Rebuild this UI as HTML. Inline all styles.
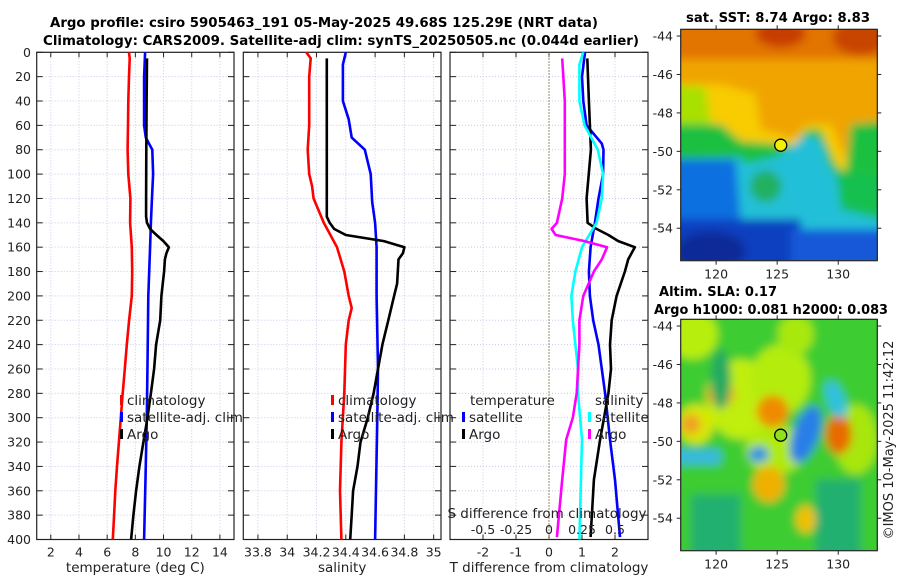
<!DOCTYPE html>
<html><head><meta charset="utf-8"><style>
body{margin:0;background:#fff}
svg{display:block;font-family:"DejaVu Sans","Liberation Sans",sans-serif}
</style></head><body>
<svg id="chart" width="900" height="580" viewBox="0 0 900 580" xmlns="http://www.w3.org/2000/svg">
<defs>
<filter id="bl" filterUnits="userSpaceOnUse" x="-30" y="-30" width="260" height="300"><feGaussianBlur stdDeviation="4.5"/></filter>
<clipPath id="c1"><rect x="0" y="0" width="197" height="231"/></clipPath>
</defs>
<g font-weight="bold" font-size="13" text-anchor="middle">
<text x="324" y="27" textLength="548" lengthAdjust="spacingAndGlyphs">Argo profile: csiro 5905463_191 05-May-2025 49.68S 125.29E (NRT data)</text>
<text x="341" y="45" textLength="596" lengthAdjust="spacingAndGlyphs">Climatology: CARS2009. Satellite-adj clim: synTS_20250505.nc (0.044d earlier)</text>
<text x="778" y="22" textLength="184" lengthAdjust="spacingAndGlyphs">sat. SST: 8.74 Argo: 8.83</text>
<text x="718" y="296" textLength="118" lengthAdjust="spacingAndGlyphs">Altim. SLA: 0.17</text>
<text x="771" y="314" textLength="234" lengthAdjust="spacingAndGlyphs">Argo h1000: 0.081 h2000: 0.083</text>
</g>
<g id="panels"></g>
<g id="maps"></g>
<text transform="translate(893,440) rotate(-90)" text-anchor="middle" font-size="13" fill="#222">©IMOS 10-May-2025 11:42:12</text>
</svg>
<script>
// ---- data ----
const tempClimDepth=[0,5,20,40,60,80,100,120,140,160,180,200,220,240,260,280,300,320,340,360,380,400];
const tempClim=[7.55,7.6,7.55,7.5,7.48,7.45,7.5,7.65,7.63,7.75,7.78,7.75,7.56,7.39,7.25,7.1,6.97,6.83,6.7,6.58,6.49,6.4];
const tempSatDepth=[0,20,40,60,70,80,100,123,140,160,200,250,300,350,400];
const tempSat=[8.69,8.62,8.62,8.62,8.74,9.2,9.26,9.17,9.1,9.05,8.92,8.87,8.81,8.72,8.62];
const tempArgoDepth=[5,40,80,120,135,140,145,150,155,160,165,170,180,200,220,240,260,280,300,320,340,360,380,400];
const tempArgo=[8.83,8.8,8.78,8.76,8.76,8.83,9.05,9.5,9.99,10.38,10.2,10.1,10.04,9.85,9.76,9.47,9.33,9.1,8.86,8.57,8.29,8.05,7.86,7.7];
const salClimDepth=[0,5,20,60,80,100,110,120,140,160,180,200,210,220,240,280,320,360,400];
const salClim=[34.13,34.16,34.15,34.15,34.14,34.15,34.17,34.18,34.25,34.34,34.39,34.42,34.44,34.42,34.40,34.39,34.37,34.36,34.37];
const salSatDepth=[0,10,40,55,70,80,100,123,140,160,200,260,300,400];
const salSat=[34.40,34.38,34.38,34.42,34.44,34.53,34.57,34.58,34.60,34.61,34.61,34.62,34.615,34.60];
const salArgoDepth=[5,135,140,145,150,155,160,165,170,190,200,220,240,260,280,300,320,340,360,380,400];
const salArgo=[34.27,34.27,34.29,34.32,34.40,34.66,34.80,34.79,34.76,34.75,34.73,34.69,34.65,34.62,34.59,34.55,34.50,34.48,34.45,34.44,34.43];
const dTArgoDepth=[5,40,80,120,140,145,150,155,160,170,180,200,220,240,260,280,318,351,398];
const dTArgo=[1.16,1.21,1.27,1.14,1.17,1.44,1.8,2.1,2.6,2.4,2.3,2.05,1.9,1.85,1.88,1.8,1.55,1.36,1.26];
const dTSatDepth=[0,20,40,60,75,80,100,120,140,160,180,200,220,240,260,280,318,351,398];
const dTSat=[1.09,1.0,1.04,1.14,1.6,1.65,1.64,1.5,1.39,1.26,1.21,1.24,1.34,1.5,1.6,1.7,1.85,2.0,2.15];
const dSSatDepth=[0,10,40,60,80,100,120,140,160,180,200,220,240,260,280,318,400];
const dSSat=[0.26,0.23,0.23,0.27,0.37,0.41,0.40,0.36,0.25,0.20,0.17,0.18,0.20,0.22,0.22,0.25,0.23];
const dSArgoDepth=[5,40,100,120,140,145,150,155,160,170,180,200,220,240,280,300,318,351,398];
const dSArgo=[0.10,0.12,0.12,0.10,0.06,0.02,0.05,0.27,0.44,0.40,0.34,0.26,0.23,0.23,0.21,0.18,0.13,0.10,0.06];
const depthTicks=[0,20,40,60,80,100,120,140,160,180,200,220,240,260,280,300,320,340,360,380,400];
const tempTicks=[2,4,6,8,10,12,14];
const salTicks=[33.8,34,34.2,34.4,34.6,34.8,35];
const salTickLabels=["33.8","34","34.2","34.4","34.6","34.8","35"];
const dTTicks=[-2,-1,0,1,2];
const dSTicks=[-0.5,-0.25,0,0.25,0.5];
const dSTickLabels=["-0.5","-0.25","0","0.25","0.5"];
const lonTicks=[120,125,130];
const latTicks=[-44,-46,-48,-50,-52,-54];
const argoLon=125.29, argoLat=-49.68;

const NS="http://www.w3.org/2000/svg";
function mk(tag,attrs,parent,txt){const e=document.createElementNS(NS,tag);for(const k in attrs)e.setAttribute(k,attrs[k]);if(txt!==undefined)e.textContent=txt;parent.appendChild(e);return e;}
const Y0=52.3,Y1=539.5;
const yD=d=>Y0+(Y1-Y0)*d/400;
const panels=document.getElementById('panels');

function panel(name,x0,x1,vmin,vmax,ticks,labels,xlabel){
  const g=mk('g',{},panels);
  
  
  const sx=v=>x0+(x1-x0)*(v-vmin)/(vmax-vmin);
  ticks.forEach(t=>{const l=mk('line',{x1:sx(t),x2:sx(t),y1:Y0,y2:Y1,stroke:'#c8cbe8','stroke-width':1,'stroke-dasharray':'1,2'},g);
    });
  depthTicks.forEach(d=>{const l=mk('line',{x1:x0,x2:x1,y1:yD(d),y2:yD(d),stroke:'#c8cbe8','stroke-width':1,'stroke-dasharray':'1,2'},g);
    });
  const fr=mk('rect',{x:x0,y:Y0,width:x1-x0,height:Y1-Y0,fill:'none',stroke:'#222','stroke-width':1.2},g);
  
  ticks.forEach((t,i)=>{mk('line',{x1:sx(t),x2:sx(t),y1:Y1,y2:Y1-5,stroke:'#222'},g);mk('line',{x1:sx(t),x2:sx(t),y1:Y0,y2:Y0+5,stroke:'#222'},g);
    if(labels){const tx=mk('text',{x:sx(t),y:Y1+17,'text-anchor':'middle','font-size':12.5,fill:'#222'},g,labels[i]);
      }});
  depthTicks.forEach(d=>{mk('line',{x1:x0,x2:x0+6,y1:yD(d),y2:yD(d),stroke:'#222'},g);mk('line',{x1:x1,x2:x1-6,y1:yD(d),y2:yD(d),stroke:'#222'},g);});
  if(xlabel){const xl=mk('text',{x:(x0+x1)/2,y:572,'text-anchor':'middle','font-size':13.5,fill:'#222'},g,xlabel);
    }
  return {g,sx};
}
function series(p,name,vals,depths,color,w){
  const pts=vals.map((v,i)=>p.sx(v).toFixed(1)+','+yD(depths[i]).toFixed(1)).join(' ');
  const pl=mk('polyline',{points:pts,fill:'none',stroke:color,'stroke-width':w||2.6,'stroke-linejoin':'round'},p.g);
  
}
function legendEntry(g,x,y,color,label,name){
  const lg=mk('g',{},g);
  
  mk('rect',{x:x,y:y-10,width:3,height:10,fill:color},lg);
  mk('text',{x:x+7,y:y,'font-size':13.5,fill:'#222'},lg,label);
}

const p1=panel('temperature-panel',36.7,234,1,15,tempTicks,tempTicks.map(String),'temperature (deg C)');
depthTicks.forEach(d=>{const t=mk('text',{x:31,y:yD(d)+4.5,'text-anchor':'end','font-size':12.5,fill:'#222'},p1.g,String(d));
  });
series(p1,'temp-climatology-line',tempClim,tempClimDepth,'#f00');
series(p1,'temp-satellite-line',tempSat,tempSatDepth,'#00f');
series(p1,'temp-argo-line',tempArgo,tempArgoDepth,'#000');
legendEntry(p1.g,120,405,'#f00','climatology','legend-climatology');
legendEntry(p1.g,120,422,'#00f','satellite-adj. clim','legend-satellite');
legendEntry(p1.g,120,439,'#000','Argo','legend-argo');

const p2=panel('salinity-panel',243.3,441,33.7,35.05,salTicks,salTickLabels,'salinity');
series(p2,'sal-climatology-line',salClim,salClimDepth,'#f00');
series(p2,'sal-satellite-line',salSat,salSatDepth,'#00f');
series(p2,'sal-argo-line',salArgo,salArgoDepth,'#000');
legendEntry(p2.g,331,405,'#f00','climatology','legend-climatology');
legendEntry(p2.g,331,422,'#00f','satellite-adj. clim','legend-satellite');
legendEntry(p2.g,331,439,'#000','Argo','legend-argo');

const p3=panel('difference-panel',450,648,-3,3,dTTicks,dTTicks.map(String),'T difference from climatology');
const zl=mk('line',{x1:p3.sx(0),x2:p3.sx(0),y1:Y0,y2:Y1,stroke:'#7a6a3a','stroke-width':1,'stroke-dasharray':'1.5,1.5'},p3.g);

const sS=v=>p3.sx(v*4);
const pS={g:p3.g,sx:sS};
series(p3,'dT-satellite-line',dTSat,dTSatDepth,'#00f');
series(p3,'dT-argo-line',dTArgo,dTArgoDepth,'#000');
series(pS,'dS-satellite-line',dSSat,dSSatDepth,'#0ff');
series(pS,'dS-argo-line',dSArgo,dSArgoDepth,'#f0f');
const tl=mk('text',{x:470,y:405,'font-size':13.5,fill:'#222'},p3.g,'temperature');

const sl=mk('text',{x:595,y:405,'font-size':13.5,fill:'#222'},p3.g,'salinity');

legendEntry(p3.g,462,422,'#00f','satellite','legend-t-satellite');
legendEntry(p3.g,462,439,'#000','Argo','legend-t-argo');
legendEntry(p3.g,588,422,'#0ff','satellite','legend-s-satellite');
legendEntry(p3.g,588,439,'#f0f','Argo','legend-s-argo');
const st=mk('text',{x:547,y:518,'text-anchor':'middle','font-size':13.5,fill:'#222'},p3.g,'S difference from climatology');

dSTicks.forEach((t,i)=>{const tx=mk('text',{x:sS(t),y:534,'text-anchor':'middle','font-size':12.5,fill:'#222'},p3.g,dSTickLabels[i]);
  });

const maps=document.getElementById('maps');
const MX0=680.7,MX1=877.3,LON0=117.1,LON1=133.2;
const mlx=lon=>MX0+(MX1-MX0)*(lon-LON0)/(LON1-LON0);
function mapFrame(name,y0,latTop,fillFn){
  const y1=y0+231.4;
  const ly=lat=>y0+(lat-latTop)*(-19.22);
  const g=mk('g',{},maps);
  
  const img=mk('g',{transform:`translate(${MX0},${y0})`,'clip-path':'url(#c1)'},g);
  
  fillFn(img);
  mk('rect',{x:MX0,y:y0,width:MX1-MX0,height:y1-y0,fill:'none',stroke:'#222','stroke-width':1.2},g);
  lonTicks.forEach(l=>{mk('line',{x1:mlx(l),x2:mlx(l),y1:y1,y2:y1+4,stroke:'#222'},g);mk('line',{x1:mlx(l),x2:mlx(l),y1:y0,y2:y0-4,stroke:'#222'},g);
    const t=mk('text',{x:mlx(l),y:y1+18,'text-anchor':'middle','font-size':12.5,fill:'#222'},g,String(l));
    });
  latTicks.forEach(l=>{mk('line',{x1:MX0,x2:MX0-4,y1:ly(l),y2:ly(l),stroke:'#222'},g);mk('line',{x1:MX1,x2:MX1+4,y1:ly(l),y2:ly(l),stroke:'#222'},g);
    const t=mk('text',{x:673,y:ly(l)+4.5,'text-anchor':'end','font-size':12.5,fill:'#222'},g,String(l));
    });
  return {g,ly};
}
function blob(p,tag,a,fill){return mk(tag,Object.assign({fill:fill},a),p);}
const m1=mapFrame('sst-map',29.3,-43.65,img=>{
  const f=mk('g',{filter:'url(#bl)'},img);
  blob(f,'rect',{x:-20,y:-20,width:240,height:280},'#f0a400');
  blob(f,'rect',{x:-20,y:-20,width:240,height:50},'#e27400');
  blob(f,'ellipse',{cx:100,cy:4,rx:25,ry:14},'#c83c00');
  blob(f,'ellipse',{cx:180,cy:8,rx:28,ry:18},'#c84400');
  blob(f,'path',{d:'M-20 55 L40 55 L75 65 L80 100 L115 110 L125 95 L150 95 L165 130 L175 100 L220 95 L220 150 L-20 150Z'},'#f8cc00');
  blob(f,'path',{d:'M-20 55 L25 58 L30 95 L-20 100Z'},'#a8e000');
  blob(f,'path',{d:'M-20 95 L40 95 L60 112 L115 116 L125 100 L140 100 L155 135 L165 145 L170 95 L220 90 L220 260 L-20 260Z'},'#1cc040');
  blob(f,'path',{d:'M-20 130 L60 128 L65 135 L95 128 L110 118 L125 106 L140 110 L150 140 L175 158 L220 165 L220 260 L-20 260Z'},'#20c0d8');
  blob(f,'ellipse',{cx:85,cy:157,rx:16,ry:16},'#20b060');
  blob(f,'path',{d:'M155 140 L220 150 L220 195 L160 180Z'},'#18c050');
  blob(f,'path',{d:'M-20 130 L55 130 L60 190 L40 210 L-20 210Z'},'#1070e0');
  blob(f,'rect',{x:-20,y:190,width:140,height:70},'#1040c0');
  blob(f,'rect',{x:110,y:200,width:110,height:60},'#1458d8');
  blob(f,'ellipse',{cx:30,cy:222,rx:35,ry:20},'#0a2a98');
});
const c1=mk('circle',{cx:mlx(argoLon),cy:m1.ly(argoLat),r:6,fill:'#f0f000',stroke:'#000','stroke-width':1.3},m1.g);

const m2=mapFrame('sla-map',319.3,-43.65,img=>{
  const f=mk('g',{filter:'url(#bl)'},img);
  blob(f,'rect',{x:-20,y:-20,width:240,height:280},'#3ccc30');
  blob(f,'ellipse',{cx:12,cy:15,rx:25,ry:25},'#b8ee10');
  blob(f,'ellipse',{cx:60,cy:80,rx:35,ry:40},'#c0ee10');
  blob(f,'ellipse',{cx:100,cy:60,rx:30,ry:35},'#b4ec10');
  blob(f,'ellipse',{cx:115,cy:15,rx:18,ry:20},'#a8e810');
  blob(f,'ellipse',{cx:95,cy:130,rx:30,ry:25},'#b0ea10');
  blob(f,'ellipse',{cx:175,cy:120,rx:22,ry:35},'#a8e610');
  blob(f,'ellipse',{cx:15,cy:105,rx:18,ry:20},'#d8e800');
  blob(f,'ellipse',{cx:40,cy:75,rx:14,ry:13},'#f0a818');
  blob(f,'ellipse',{cx:10,cy:105,rx:10,ry:10},'#f0a020');
  blob(f,'ellipse',{cx:92,cy:92,rx:16,ry:16},'#f08a00');
  blob(f,'ellipse',{cx:158,cy:115,rx:13,ry:20},'#e86a00');
  blob(f,'ellipse',{cx:88,cy:165,rx:16,ry:18},'#f0b000');
  blob(f,'ellipse',{cx:125,cy:200,rx:10,ry:14},'#f0c000');
  blob(f,'ellipse',{cx:125,cy:115,rx:13,ry:30,transform:'rotate(20 125 115)'},'#2a7ee8');
  blob(f,'ellipse',{cx:155,cy:80,rx:9,ry:20,transform:'rotate(-20 155 80)'},'#30c0e0');
  blob(f,'rect',{x:-20,y:130,width:60,height:15},'#38b8e0');
  blob(f,'ellipse',{cx:78,cy:135,rx:10,ry:8},'#2a90e8');
  blob(f,'rect',{x:10,y:175,width:50,height:70},'#22b070');
  blob(f,'rect',{x:135,y:160,width:45,height:80},'#22b070');
  blob(f,'ellipse',{cx:40,cy:60,rx:10,ry:30},'#22aa60');
});
const c2=mk('circle',{cx:mlx(argoLon),cy:m2.ly(argoLat),r:6,fill:'#90e020',stroke:'#000','stroke-width':1.3},m2.g);

</script>
</body></html>
